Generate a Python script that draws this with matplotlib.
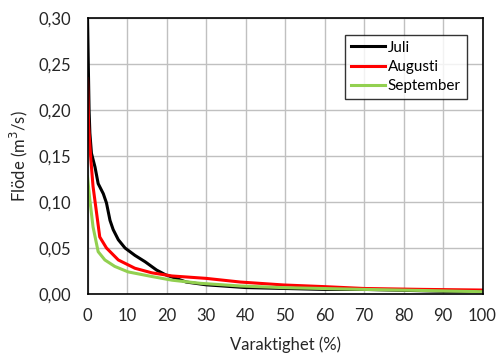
import numpy as np
import matplotlib
matplotlib.use("Agg")
import matplotlib.pyplot as plt
from matplotlib.ticker import FuncFormatter

plt.rcParams["font.family"] = ["Lato", "DejaVu Sans"]

# duration curves (x = Varaktighet %, y = Flöde m3/s)
juli_x = [0, 0.2, 0.4, 0.6, 1.0, 1.9, 2.7, 4.0, 4.8, 5.7, 6.5, 7.8, 9.5, 12.0, 14.6, 17.5,
          19.7, 25, 30, 40, 50, 60, 70, 80, 90, 100]
juli_y = [0.30, 0.25, 0.20, 0.175, 0.153, 0.138, 0.120, 0.109, 0.099, 0.080, 0.070, 0.059,
          0.050, 0.042, 0.035, 0.026, 0.021, 0.013, 0.010, 0.007, 0.006, 0.005, 0.005,
          0.004, 0.003, 0.003]

aug_x = [0, 0.3, 0.85, 1.4, 2.3, 3.1, 4.8, 7.8, 12.0, 16.3, 21.4, 30, 38.7, 49.7, 60, 70,
         85, 100]
aug_y = [0.234, 0.182, 0.146, 0.117, 0.088, 0.062, 0.050, 0.037, 0.028, 0.023, 0.0196,
         0.017, 0.013, 0.0098, 0.008, 0.006, 0.005, 0.0043]

sep_x = [0, 0.6, 1.4, 2.7, 4.4, 6.9, 10.3, 16.3, 21.4, 28.6, 38.7, 49.7, 70, 85, 100]
sep_y = [0.1275, 0.102, 0.073, 0.046, 0.037, 0.030, 0.024, 0.019, 0.015, 0.0116, 0.0087,
         0.0069, 0.005, 0.0038, 0.0025]

x_ticks = np.arange(0, 101, 10)
y_ticks = np.arange(0, 0.301, 0.05)

fig = plt.figure(figsize=(4.97, 3.56), dpi=100)
ax = fig.add_axes([87.5 / 497, 1 - 294 / 356, 395 / 497, 276 / 356])

ax.plot(juli_x, juli_y, color="black", lw=2.2, label="Juli")
ax.plot(aug_x, aug_y, color="#ff0000", lw=2.2, label="Augusti")
ax.plot(sep_x, sep_y, color="#92d050", lw=2.2, label="September")

ax.set_xlim(0, 100)
ax.set_ylim(0, 0.30)
ax.set_xticks(x_ticks)
ax.set_yticks(y_ticks)
ax.yaxis.set_major_formatter(FuncFormatter(lambda v, p: f"{v:.2f}".replace(".", ",")))
ax.grid(True, color="#c0c0c0", lw=1.0)
ax.set_axisbelow(True)
ax.tick_params(length=0, labelsize=12, colors="#262626")
ax.tick_params(axis="y", pad=12)
ax.tick_params(axis="x", pad=10)
for s in ax.spines.values():
    s.set_color("black")
    s.set_linewidth(1.2)

ax.set_xlabel("Varaktighet (%)", fontsize=12, color="#262626", labelpad=9)
ax.set_ylabel("Flöde (m$^3$/s)", fontsize=12, color="#262626", labelpad=6)

leg = ax.legend(loc="upper right", bbox_to_anchor=(0.96, 0.94), fontsize=11,
                frameon=True, fancybox=False, handlelength=2.2, handletextpad=0.2,
                borderpad=0.4, labelspacing=0.35, borderaxespad=0)
leg.get_frame().set_edgecolor("black")
leg.get_frame().set_linewidth(1.0)

fig.savefig("out.png", dpi=100)
